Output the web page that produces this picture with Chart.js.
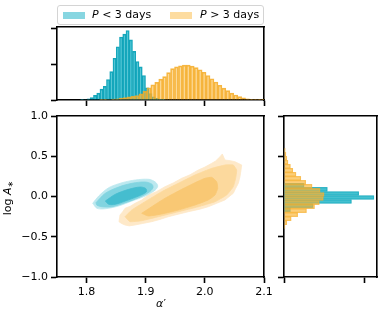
<!DOCTYPE html>
<html>
<head>
<meta charset="utf-8">
<script src="https://cdn.jsdelivr.net/npm/chart.js@4.4.1/dist/chart.umd.min.js"></script>
<style>
body { margin: 0; background: #fff; }
#wrap { position: relative; width: 382px; height: 317px; font-family: "DejaVu Sans"; color: #000; }
canvas { position: absolute; left: 0; top: 0; }
#legend { position: absolute; left: 57px; top: 5px; width: 205px; height: 18px; border: 1px solid #d4d4d4; border-radius: 3px; background: rgba(255,255,255,0.85); }
.sw { position: absolute; top: 6px; width: 22px; height: 7px; }
.lt { position: absolute; top: 1px; font-size: 11px; line-height: 16px; white-space: nowrap; }
#ylab { position: absolute; left: -22px; top: 191px; width: 60px; height: 14px; line-height: 14px; text-align: center; font-size: 11px; transform: rotate(-90deg); white-space: nowrap; }
#ylab sub { font-size: 8px; vertical-align: -2px; }
#xlab { position: absolute; left: 111px; top: 297px; width: 100px; line-height: 14px; text-align: center; font-size: 11px; }
</style>
</head>
<body>
<div id="wrap">
  <canvas id="topHist" width="382" height="317"></canvas>
  <canvas id="mainPlot" width="382" height="317"></canvas>
  <canvas id="sideHist" width="382" height="317"></canvas>
  <div id="legend">
    <span class="sw" style="left:5px;background:#87d6e1;"></span>
    <span class="lt" style="left:34px;"><i>P</i> &lt; 3 days</span>
    <span class="sw" style="left:112px;background:#fddca0;"></span>
    <span class="lt" style="left:142px;"><i>P</i> &gt; 3 days</span>
  </div>
  <div id="ylab">log <i>A</i><sub>∗</sub></div>
  <div id="xlab"><i>α</i>′</div>
</div>
<script>
// axis ticks
var xTicks = [1.8, 1.9, 2.0, 2.1];
var yTicks = [-1.0, -0.5, 0.0, 0.5, 1.0];
var topTicks = [0, 1, 2];
var sideTicks = [0, 1];

// top histogram of alpha' (P < 3 days)
var alphaBinsShort = [1.7924, 1.7979, 1.8034, 1.8089, 1.8144, 1.8199, 1.8254, 1.8309, 1.8364, 1.8419, 1.8474, 1.8529, 1.8584,
  1.8639, 1.8694, 1.8749, 1.8804, 1.8859, 1.8914, 1.8969, 1.9024, 1.9079, 1.9134, 1.9189, 1.9244, 1.9299];
var alphaCountsShort = [0.005, 0.015, 0.035, 0.065, 0.13, 0.19, 0.30, 0.38, 0.57, 0.79, 1.16, 1.48, 1.75,
  1.83, 1.93, 1.67, 1.35, 1.07, 0.92, 0.68, 0.34, 0.18, 0.09, 0.045, 0.02, 0.008];

// top histogram of alpha' (P > 3 days)
var alphaBinsLong = [1.8251, 1.8318, 1.8384, 1.8451, 1.8518, 1.8585, 1.8651, 1.8718, 1.8785, 1.8852, 1.8918, 1.8985,
  1.9052, 1.9119, 1.9186, 1.9253, 1.9319, 1.9386, 1.9453, 1.952, 1.9587, 1.9653,
  1.972, 1.9787, 1.9854, 1.9921, 1.9987, 2.0054, 2.0121, 2.0188, 2.0255, 2.0321,
  2.0388, 2.0455, 2.0522, 2.0589, 2.0655, 2.0722, 2.0789, 2.0856, 2.0923, 2.099];
var alphaCountsLong = [0.005, 0.01, 0.015, 0.025, 0.035, 0.05, 0.065, 0.085, 0.10, 0.125, 0.17, 0.24,
  0.34, 0.42, 0.49, 0.58, 0.65, 0.76, 0.87, 0.92, 0.95, 0.97,
  0.97, 0.94, 0.90, 0.84, 0.77, 0.68, 0.59, 0.50, 0.41, 0.33,
  0.26, 0.19, 0.14, 0.095, 0.06, 0.035, 0.02, 0.012, 0.006, 0.003];

// side histogram of log A*
var logABinsShort = [0.1375, 0.0875, 0.0375, -0.0125, -0.0625, -0.1125, -0.1625];
var logACountsShort = [0.25, 0.54, 0.93, 1.12, 0.84, 0.36, 0.08];
var logABinsLong = [0.575, 0.525, 0.475, 0.425, 0.375, 0.325, 0.275, 0.225, 0.175, 0.125,
  0.075, 0.025, -0.025, -0.075, -0.125, -0.175, -0.225, -0.275, -0.325, -0.375];
var logACountsLong = [0.015, 0.025, 0.035, 0.05, 0.08, 0.11, 0.15, 0.21, 0.27, 0.35,
  0.45, 0.50, 0.49, 0.44, 0.38, 0.28, 0.17, 0.09, 0.035, 0.012];

// density contours [alpha', log A*]
var shortOuter = [[1.8104,-0.084],[1.8205,0.006],[1.8374,0.109],[1.8599,0.171],[1.8824,0.205],[1.9051,0.214],[1.9162,0.180],
  [1.9203,0.130],[1.9162,0.081],[1.8993,0.006],[1.8768,-0.056],[1.8543,-0.118],[1.8317,-0.152],[1.8176,-0.147]];
var shortMid = [[1.8159,-0.077],[1.8317,0.040],[1.8543,0.118],[1.8768,0.164],[1.8993,0.180],[1.9106,0.152],[1.9123,0.109],
  [1.9061,0.056],[1.8881,-0.015],[1.8655,-0.077],[1.8430,-0.127],[1.8261,-0.127],[1.8176,-0.109]];
var shortCore = [[1.8317,-0.056],[1.8486,0.027],[1.8712,0.089],[1.8909,0.118],[1.9005,0.097],[1.9010,0.056],[1.8881,0.006],
  [1.8655,-0.056],[1.8486,-0.097],[1.8374,-0.097]];

var longOuter = [[1.8548,-0.313],[1.8565,-0.230],[1.8610,-0.190],[1.8650,-0.147],[1.8740,-0.120],[1.8820,-0.085],[1.8930,-0.045],
  [1.9044,0.019],[1.9180,0.060],[1.9326,0.122],[1.9470,0.170],[1.9608,0.226],[1.9750,0.270],[1.9889,0.329],[2.0000,0.365],
  [2.0116,0.412],[2.0180,0.440],[2.0256,0.494],[2.0295,0.528],[2.0340,0.453],[2.0430,0.445],[2.0510,0.432],[2.0623,0.391],
  [2.0611,0.329],[2.0594,0.246],[2.0566,0.164],[2.0520,0.100],[2.0481,0.040],[2.0340,-0.043],[2.0200,-0.085],[2.0058,-0.127],
  [1.9900,-0.160],[1.9720,-0.189],[1.9550,-0.220],[1.9382,-0.251],[1.9240,-0.285],[1.9101,-0.313],[1.8950,-0.335],
  [1.8819,-0.354],[1.8720,-0.365],[1.8650,-0.354],[1.8590,-0.335]];
var longMid = [[1.8650,-0.251],[1.8763,-0.168],[1.8988,-0.065],[1.9270,0.060],[1.9551,0.164],[1.9833,0.267],[2.0116,0.350],
  [2.0340,0.391],[2.0481,0.391],[2.0538,0.329],[2.0521,0.226],[2.0481,0.122],[2.0370,0.019],[2.0172,-0.065],[1.9889,-0.127],
  [1.9551,-0.189],[1.9213,-0.251],[1.8932,-0.301],[1.8734,-0.313]];
var longCore = [[1.8932,-0.209],[1.9101,-0.127],[1.9326,-0.022],[1.9608,0.089],[1.9833,0.171],[2.0003,0.226],[2.0116,0.238],
  [2.0200,0.184],[2.0217,0.102],[2.0172,0.019],[2.0058,-0.043],[1.9833,-0.106],[1.9551,-0.168],[1.9270,-0.217],[1.9044,-0.242]];

var FONT = { family: 'DejaVu Sans', size: 11 };

function sized(n) {
  return function(s) { if (s.isHorizontal()) s.height = n; else s.width = n; };
}
function fixTicks(list) {
  return function(s) { s.ticks = list.map(function(v) { return { value: v }; }); };
}
function tickAxis(pos, min, max, ticks, labels, size, fmt) {
  var a = {
    type: 'linear', position: pos, min: min, max: max, offset: false,
    afterFit: sized(size), afterBuildTicks: fixTicks(ticks),
    grid: { offset: false, drawOnChartArea: false, drawTicks: true, tickLength: 6, tickWidth: 1.6, tickColor: '#000' },
    border: { display: true, color: '#000', width: 1.6 },
    ticks: { display: labels, font: FONT, color: '#000', padding: 3 }
  };
  if (fmt) a.ticks.callback = fmt;
  return a;
}
function frameAxis(pos) {
  return {
    type: 'linear', position: pos, min: 0, max: 1, afterFit: sized(0),
    grid: { display: false }, ticks: { display: false },
    border: { display: true, color: '#000', width: 1.6 }
  };
}
function hiddenAxis(min, max, axis) {
  return { type: 'linear', axis: axis, display: false, min: min, max: max, offset: false, grid: { offset: false } };
}
function pairs(xs, ys) {
  return xs.map(function(x, i) { return { x: x, y: ys[i] }; });
}
function poly(list) {
  var pts = list.map(function(p) { return { x: p[0], y: p[1] }; });
  pts.push({ x: list[0][0], y: list[0][1] });
  return pts;
}

var common = {
  responsive: false, animation: false, devicePixelRatio: 1,
  plugins: { legend: { display: false }, tooltip: { enabled: false } }
};

// top histogram
new Chart(document.getElementById('topHist'), {
  type: 'bar',
  data: {
    datasets: [
      { data: pairs(alphaBinsLong, alphaCountsLong), xAxisID: 'x2', order: 0,
        backgroundColor: 'rgba(249,180,50,0.5)', borderColor: 'rgba(245,170,35,0.85)', borderWidth: 1,
        barPercentage: 1, categoryPercentage: 1, grouped: false },
      { data: pairs(alphaBinsShort, alphaCountsShort), xAxisID: 'x', order: 1,
        backgroundColor: 'rgba(23,180,200,0.55)', borderColor: 'rgba(10,160,182,0.95)', borderWidth: 1,
        barPercentage: 1, categoryPercentage: 1, grouped: false }
    ]
  },
  options: Object.assign({}, common, {
    layout: { autoPadding: false, padding: { left: 57, right: 118, top: 27, bottom: 217 } },
    scales: {
      x: tickAxis('bottom', 1.75, 2.1, xTicks, false, 0),
      x2: hiddenAxis(1.75, 2.1, 'x'),
      xTop: frameAxis('top'),
      y: tickAxis('left', 0, 2.028, topTicks, false, 0),
      yRight: frameAxis('right')
    }
  })
});

// main 2D density plot
var fillSet = function(list, color, order, tension) {
  return { data: poly(list), showLine: true, fill: 'shape', pointRadius: 0, order: order,
    backgroundColor: color, borderColor: color, borderWidth: 0.8, tension: tension };
};
new Chart(document.getElementById('mainPlot'), {
  type: 'scatter',
  data: {
    datasets: [
      fillSet(shortCore, '#45bdcf', 1, 0.3),
      fillSet(shortMid, '#82d4e0', 2, 0.3),
      fillSet(shortOuter, '#bce8ef', 3, 0.3),
      fillSet(longCore, '#f9c874', 4, 0.15),
      fillSet(longMid, '#fcd99d', 5, 0.1),
      fillSet(longOuter, '#fee9c9', 6, 0)
    ]
  },
  options: Object.assign({}, common, {
    layout: { autoPadding: false, padding: { left: 0, right: 118, top: 116, bottom: 0 } },
    scales: {
      x: tickAxis('bottom', 1.75, 2.1, xTicks, true, 40, function(v) { return v.toFixed(1); }),
      xTop: frameAxis('top'),
      y: tickAxis('left', -1, 1, yTicks, true, 57, function(v) { return v.toFixed(1).replace('-', '\u2212'); }),
      yRight: frameAxis('right')
    }
  })
});

// side histogram
new Chart(document.getElementById('sideHist'), {
  type: 'bar',
  data: {
    datasets: [
      { data: pairs(logACountsLong, logABinsLong), yAxisID: 'y2', order: 0,
        backgroundColor: 'rgba(249,180,50,0.65)', borderColor: 'rgba(245,172,40,0.7)', borderWidth: 0.6,
        barPercentage: 1, categoryPercentage: 1, grouped: false },
      { data: pairs(logACountsShort, logABinsShort), yAxisID: 'y', order: 1,
        backgroundColor: 'rgba(23,176,195,0.8)', borderColor: 'rgba(15,165,185,0.8)', borderWidth: 0.6,
        barPercentage: 1, categoryPercentage: 1, grouped: false }
    ]
  },
  options: Object.assign({}, common, {
    indexAxis: 'y',
    layout: { autoPadding: false, padding: { left: 284, right: 5, top: 116, bottom: 40 } },
    scales: {
      x: tickAxis('bottom', 0, 1.158, sideTicks, false, 0),
      xTop: frameAxis('top'),
      y: tickAxis('left', -1, 1, yTicks, false, 0),
      y2: hiddenAxis(-1, 1, 'y'),
      yRight: frameAxis('right')
    }
  })
});
</script>
</body>
</html>
